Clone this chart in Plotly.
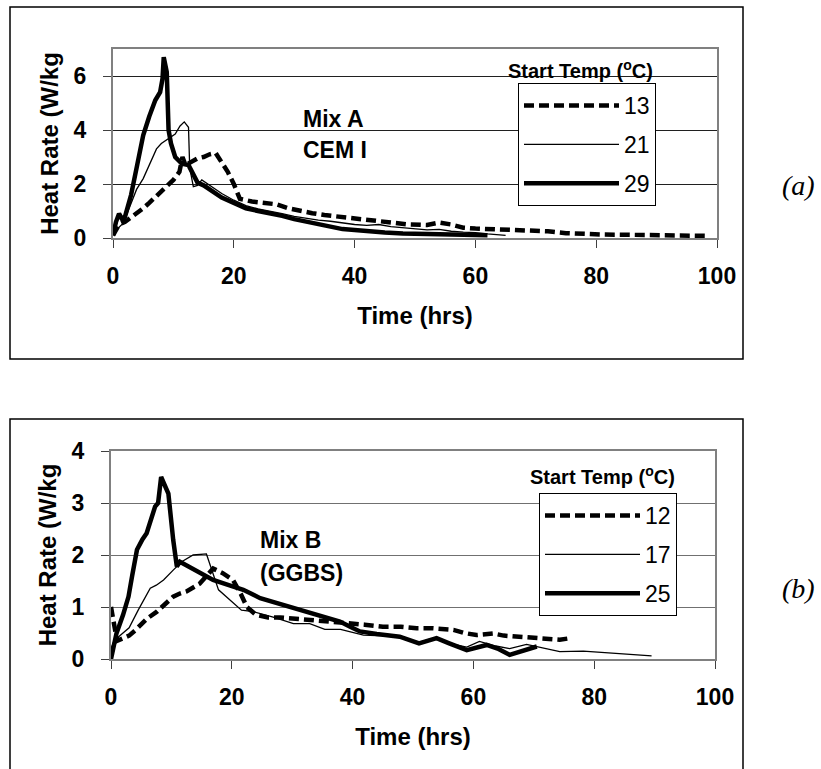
import plotly.graph_objects as go

W, H = 821, 769

# ---------------- Panel (a): Mix A, CEM I ----------------
t13a = [0, 1, 2, 3, 4, 5, 6, 7, 8, 9, 10, 11, 11.5, 12, 13, 14, 15, 16, 17, 18, 19, 20, 21,
        23, 25, 27, 29, 31, 33, 35, 37, 40, 43, 46, 49, 52, 54, 56, 58, 60, 63, 66, 69,
        72, 75, 78, 81, 85, 89, 93, 98]
v13a = [0.1, 0.5, 0.6, 0.75, 0.9, 1.1, 1.3, 1.5, 1.75, 1.95, 2.15, 2.45, 3.0, 2.7, 2.85,
        2.95, 3.0, 3.1, 3.15, 2.8, 2.45, 2.0, 1.45, 1.35, 1.3, 1.25, 1.1, 1.0, 0.92, 0.85,
        0.8, 0.7, 0.62, 0.55, 0.5, 0.48, 0.57, 0.5, 0.38, 0.35, 0.33, 0.3, 0.27, 0.25,
        0.18, 0.14, 0.13, 0.12, 0.11, 0.1, 0.08]

t21a = [0, 0.5, 1, 1.7, 2.5, 3.9, 5.0, 5.6, 6.5, 7.2, 8.0, 8.9, 10.3, 11.1, 11.8, 12.5,
        12.7, 13.3, 14.0, 14.7, 16, 18, 20, 22, 24, 26, 28, 30, 32, 34, 36, 38, 40, 42,
        44, 46, 48, 50, 52, 54, 56, 58, 60, 62, 65]
v21a = [0.1, 0.3, 0.4, 0.55, 1.0, 1.8, 2.2, 2.5, 2.9, 3.3, 3.5, 3.65, 3.85, 4.15, 4.3,
        4.1, 2.6, 1.9, 1.95, 2.15, 1.95, 1.65, 1.4, 1.2, 1.08, 1.0, 0.9, 0.8, 0.72, 0.66,
        0.62, 0.55, 0.5, 0.47, 0.5, 0.42, 0.38, 0.35, 0.3, 0.32, 0.25, 0.22, 0.2, 0.15, 0.1]

t29a = [0, 0.5, 1, 1.5, 2, 3, 4, 5, 6, 7, 7.8, 8.2, 8.4, 8.9, 9.2, 9.6, 10.3, 11.4, 12.5,
        13.3, 14, 15, 16, 17, 18, 20, 22, 24, 26, 28, 30, 32, 34, 36, 38, 40, 42, 45, 48,
        51, 54, 57, 60, 62]
v29a = [0.1, 0.6, 0.9, 0.7, 0.8, 1.6, 2.7, 3.8, 4.5, 5.1, 5.4, 5.9, 6.7, 6.15, 4.0, 3.5,
        3.0, 2.75, 2.7, 2.3, 2.05, 1.95, 1.8, 1.65, 1.5, 1.3, 1.1, 1.0, 0.92, 0.82, 0.7,
        0.6, 0.5, 0.4, 0.33, 0.3, 0.25, 0.2, 0.17, 0.15, 0.13, 0.12, 0.1, 0.1]

# ---------------- Panel (b): Mix B, GGBS ----------------
t12b = [0, 0.5, 1, 2, 3, 4, 5, 6, 7.6, 9, 10.3, 11.4, 12.5, 14.7, 16.9, 18.5, 20.2, 21.5,
        22.5, 24, 26, 28, 30.2, 34, 37, 39.6, 42, 45, 48, 50.6, 53.3, 56.7, 58.5, 60.5,
        63.3, 65, 67.2, 70, 72.1, 74.3, 76]
v12b = [1.0, 0.6, 0.35, 0.4, 0.45, 0.55, 0.68, 0.78, 0.91, 1.05, 1.2, 1.26, 1.3, 1.45,
        1.74, 1.65, 1.52, 1.25, 1.0, 0.85, 0.8, 0.8, 0.78, 0.75, 0.72, 0.68, 0.66, 0.62,
        0.62, 0.59, 0.59, 0.56, 0.5, 0.46, 0.49, 0.45, 0.43, 0.42, 0.4, 0.37, 0.4]

t17b = [0, 0.5, 1.5, 3, 4.5, 5.5, 6.5, 7.5, 8.7, 10.3, 11.7, 13.6, 15.8, 17.8, 19.5, 21.6,
        23.6, 27, 30.2, 32.9, 35.4, 38, 41.8, 44, 47.5, 51, 53.9, 56, 58.9, 61, 63.7, 66,
        68.8, 70.5, 74.3, 78.2, 83.7, 89.5]
v17b = [0.2, 0.35, 0.45, 0.6, 0.94, 1.15, 1.36, 1.42, 1.52, 1.71, 1.87, 2.0, 2.02, 1.33,
        1.15, 0.94, 0.91, 0.8, 0.68, 0.68, 0.57, 0.57, 0.46, 0.45, 0.45, 0.32, 0.42, 0.3,
        0.23, 0.34, 0.25, 0.2, 0.28, 0.24, 0.14, 0.15, 0.11, 0.06]

t25b = [0, 0.9, 2, 2.9, 3.5, 4.3, 5.2, 5.9, 7.3, 7.8, 8.3, 9.5, 10.3, 10.9, 11.4, 14, 16.9,
        19.5, 21.9, 24.7, 28.5, 31.3, 34, 37.9, 39.6, 41.2, 44, 47.8, 51, 53.9, 56, 58.9,
        62.2, 64, 66, 68, 70.5]
v25b = [0, 0.49, 0.85, 1.2, 1.6, 2.1, 2.3, 2.42, 2.93, 3.0, 3.5, 3.18, 2.29, 1.78, 1.87,
        1.7, 1.52, 1.42, 1.33, 1.17, 1.04, 0.94, 0.85, 0.72, 0.62, 0.53, 0.48, 0.43, 0.3,
        0.4, 0.3, 0.17, 0.27, 0.2, 0.08, 0.15, 0.24]

x_ticks = [0, 20, 40, 60, 80, 100]
y_ticks_a = [0, 2, 4, 6]
y_ticks_b = [0, 1, 2, 3, 4]
names_a = ["13", "21", "29"]
names_b = ["12", "17", "25"]

DASH = dict(color="black", width=4.5, dash="10px,5px")
THIN = dict(color="black", width=1.3)
THICK = dict(color="black", width=4.5)

fig = go.Figure()
series_a = [(t13a, v13a, names_a[0], DASH), (t21a, v21a, names_a[1], THIN), (t29a, v29a, names_a[2], THICK)]
series_b = [(t12b, v12b, names_b[0], DASH), (t17b, v17b, names_b[1], THIN), (t25b, v25b, names_b[2], THICK)]
for t, v, n, ln in series_a:
    fig.add_trace(go.Scatter(x=t, y=v, name=n, mode="lines", line=ln,
                             xaxis="x", yaxis="y", legend="legend", legendgroup="a" + n))
for t, v, n, ln in series_b:
    fig.add_trace(go.Scatter(x=t, y=v, name=n, mode="lines", line=ln,
                             xaxis="x2", yaxis="y2", legend="legend2", legendgroup="b" + n))

def px(x):
    return x / W

def py(y):
    return 1 - y / H

BOLD = "Liberation Sans, Arial, sans-serif"
tickfont = dict(family=BOLD, size=23, color="black", weight="bold")
titlefont = dict(family=BOLD, size=24, color="black", weight="bold")

def xaxis(dom, anchor):
    return dict(domain=dom, anchor=anchor, range=[0, 100], tickvals=x_ticks,
                automargin=False,
                showgrid=False, zeroline=False, showline=True, mirror=True,
                linecolor="#808080", linewidth=2, ticks="outside", ticklen=8,
                tickcolor="#404040", tickwidth=1, tickfont=tickfont,
                ticklabelstandoff=8,
                title=dict(text="Time (hrs)", font=titlefont, standoff=20))

def yaxis(dom, anchor, rng, tv, gridcolor):
    return dict(domain=dom, anchor=anchor, range=rng, tickvals=tv,
                automargin=False,
                showgrid=True, gridcolor=gridcolor, gridwidth=1, zeroline=False,
                showline=True, mirror=True, linecolor="#808080", linewidth=2,
                ticks="outside", ticklen=8, tickcolor="#404040", tickwidth=1,
                tickfont=tickfont, ticklabelstandoff=12,
                title=dict(text="Heat Rate (W/kg", font=titlefont, standoff=8))

legend_common = dict(bgcolor="white", bordercolor="black", borderwidth=1,
                     font=dict(family=BOLD, size=23, color="black"),
                     xanchor="left", yanchor="top", tracegroupgap=6,
                     itemwidth=95,
                     itemclick=False, itemdoubleclick=False)

fig.update_layout(
    template="none",
    width=W, height=H, autosize=False, margin=dict(l=0, r=0, t=0, b=0, pad=0, autoexpand=False),
    paper_bgcolor="white", plot_bgcolor="white",
    xaxis=xaxis([px(113), px(717)], "y"),
    yaxis=yaxis([py(238), py(49)], "x", [0, 7], y_ticks_a, "#202020"),
    xaxis2=xaxis([px(111), px(715)], "y2"),
    yaxis2=yaxis([py(659), py(451)], "x2", [0, 4], y_ticks_b, "#707070"),
    legend=dict(x=px(518), y=py(83), **legend_common),
    legend2=dict(x=px(539), y=py(493), **legend_common),
    showlegend=True,
)

shapes = [
    dict(type="rect", xref="paper", yref="paper", x0=px(10), x1=px(743), y0=py(359), y1=py(7),
         line=dict(color="black", width=1.5)),
    dict(type="rect", xref="paper", yref="paper", x0=px(10), x1=px(743), y0=py(790), y1=py(419),
         line=dict(color="black", width=1.5)),
]
fig.update_layout(shapes=shapes)

ann_font = dict(family=BOLD, size=23, color="black", weight="bold")
annotations = [
    dict(text="Mix A", x=px(301), y=py(119), xanchor="left", yanchor="middle"),
    dict(text="CEM I", x=px(301), y=py(150), xanchor="left", yanchor="middle"),
    dict(text="Mix B", x=px(258), y=py(540), xanchor="left", yanchor="middle"),
    dict(text="(GGBS)", x=px(258), y=py(573), xanchor="left", yanchor="middle"),
]
for a in annotations:
    a.update(xref="paper", yref="paper", showarrow=False, font=ann_font)
annotations += [
    dict(text="Start Temp (<sup>o</sup>C)", x=px(580), y=py(69), xanchor="center", yanchor="middle",
         xref="paper", yref="paper", showarrow=False,
         font=dict(family=BOLD, size=20, color="black", weight="bold")),
    dict(text="Start Temp (<sup>o</sup>C)", x=px(602), y=py(475), xanchor="center", yanchor="middle",
         xref="paper", yref="paper", showarrow=False,
         font=dict(family=BOLD, size=20, color="black", weight="bold")),
    dict(text="<i>(a)</i>", x=px(798), y=py(185), xanchor="center", yanchor="middle",
         xref="paper", yref="paper", showarrow=False,
         font=dict(family="Liberation Serif, Times New Roman, serif", size=28, color="black")),
    dict(text="<i>(b)</i>", x=px(798), y=py(588), xanchor="center", yanchor="middle",
         xref="paper", yref="paper", showarrow=False,
         font=dict(family="Liberation Serif, Times New Roman, serif", size=28, color="black")),
]
fig.update_layout(annotations=annotations)

fig.write_html("out.html", config={"displayModeBar": False},
               post_script="document.body.style.margin='0px';")
